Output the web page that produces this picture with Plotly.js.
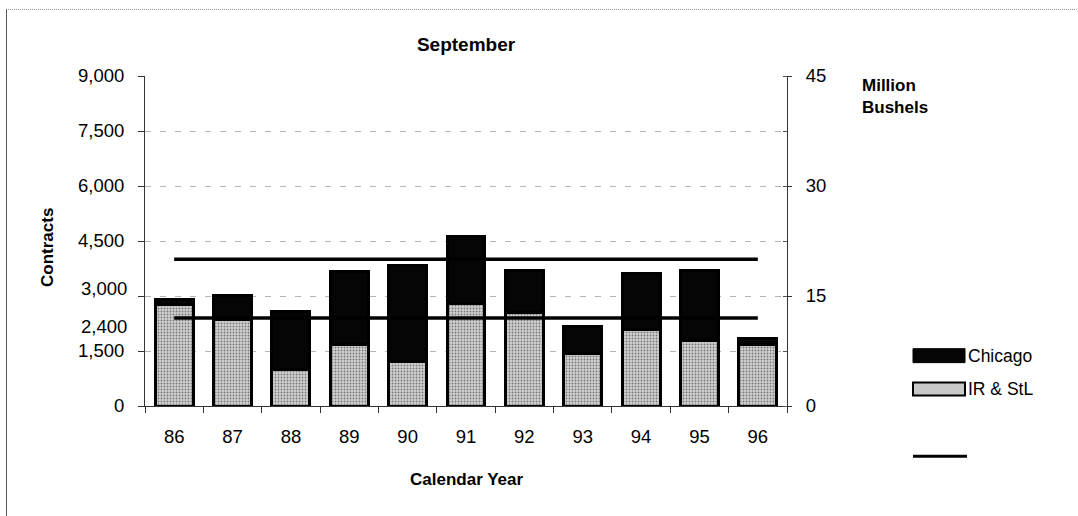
<!DOCTYPE html>
<html>
<head>
<meta charset="utf-8">
<script src="https://cdn.plot.ly/plotly-3.0.1.min.js"></script>
<style>
  html, body { margin: 0; padding: 0; background: #fff; }
  #wrap { position: relative; width: 1078px; height: 516px; }
  #chart { width: 1078px; height: 516px; }
  #frame { position: absolute; left: 6px; top: 9px; width: 1072px; height: 507px;
           border-left: 1px solid #555; border-top: 1px dotted #999; pointer-events: none; }
</style>
</head>
<body>
<div id="wrap"><div id="chart"></div><div id="frame"></div></div>
<script>
// ---- data ----
const years = ['86', '87', '88', '89', '90', '91', '92', '93', '94', '95', '96'];
const irStl = [2780, 2370, 1000, 1690, 1215, 2800, 2555, 1440, 2100, 1775, 1665];
const chicago = [120, 650, 1575, 1980, 2615, 1820, 1135, 735, 1525, 1915, 165];
const upperLine = [4000, 4000, 4000, 4000, 4000, 4000, 4000, 4000, 4000, 4000, 4000];
const lowerLine = [2400, 2400, 2400, 2400, 2400, 2400, 2400, 2400, 2400, 2400, 2400];
const leftTickVals = [0, 1500, 3000, 4500, 6000, 7500, 9000];
const leftTickText = ['0', '1,500', '', '4,500', '6,000', '7,500', '9,000'];
const rightTickVals = [0, 15, 30, 45];
const rightTickText = ['0', '15', '30', '45'];

// ---- layout helpers (pixel -> paper) ----
const L = 145, R = 787, T = 75.5, B = 406.5;
const px = x => (x - L) / (R - L);
const py = y => (B - y) / (B - T);
const FONT = 'Liberation Sans, Arial, sans-serif';

const traces = [
  { type: 'bar', name: 'IR & StL', x: years, y: irStl, width: 0.65,
    marker: { color: '#c8c8c8', line: { color: '#000', width: 3 },
              pattern: { shape: '.', fgcolor: '#7a7a7a', bgcolor: '#d0d0d0', size: 3, solidity: 0.3 } },
    showlegend: false },
  { type: 'bar', name: 'Chicago', x: years, y: chicago, width: 0.65,
    marker: { color: '#050505', line: { color: '#000', width: 3 } }, showlegend: false },
  { type: 'scatter', mode: 'lines', x: years, y: upperLine, line: { color: '#000', width: 3.5 }, showlegend: false },
  { type: 'scatter', mode: 'lines', x: years, y: lowerLine, line: { color: '#000', width: 3.5 }, showlegend: false },
  { type: 'scatter', mode: 'lines', x: years, y: [null,null,null,null,null,null,null,null,null,null,null], yaxis: 'y2', showlegend: false, hoverinfo: 'skip' }
];

const layout = {
  width: 1078, height: 516,
  margin: { l: L, r: 1078 - R, t: T, b: 516 - B, pad: 0 },
  paper_bgcolor: '#fff', plot_bgcolor: '#fff',
  font: { family: FONT, size: 18, color: '#000' },
  barmode: 'stack',
  title: { text: '<b>September</b>', font: { family: FONT, size: 19, color: '#000' },
           x: 0.5, xref: 'paper', y: 1 - 44 / 516, yref: 'container', yanchor: 'middle' },
  xaxis: { type: 'category', range: [-0.5, 10.5], tickson: 'boundaries', ticks: 'outside', ticklen: 6,
           tickcolor: '#333', showline: true, linecolor: '#333', linewidth: 1, showgrid: false,
           ticklabelstandoff: 14, tickfont: { family: FONT, size: 18.5 }, automargin: false, fixedrange: true },
  yaxis: { range: [0, 9000], tickvals: leftTickVals, ticktext: leftTickText, ticks: 'outside', ticklen: 6,
           tickcolor: '#333', showline: true, linecolor: '#333', linewidth: 1,
           showgrid: true, gridcolor: '#b4b4b4', gridwidth: 1, griddash: '6px,9px', zeroline: false,
           ticklabelstandoff: 10, tickfont: { family: FONT, size: 18.5 }, automargin: false, fixedrange: true },
  yaxis2: { overlaying: 'y', side: 'right', range: [0, 45], tickvals: rightTickVals, ticktext: rightTickText,
            ticks: 'outside', ticklen: 4, tickcolor: '#333', showline: true, linecolor: '#333', linewidth: 1,
            showgrid: false, zeroline: false, ticklabelstandoff: 10, tickfont: { family: FONT, size: 18.5 },
            minor: { dtick: 7.5, ticks: 'inside', ticklen: 4, tickcolor: '#555' },
            automargin: false, fixedrange: true },
  annotations: [
    { text: '3,000', xref: 'paper', yref: 'y', x: 0, y: 3000, xanchor: 'right', yanchor: 'middle',
      xshift: -16, yshift: 8, showarrow: false, font: { family: FONT, size: 18.5 } },
    { text: '2,400', xref: 'paper', yref: 'y', x: 0, y: 2400, xanchor: 'right', yanchor: 'middle',
      xshift: -16, yshift: -8, showarrow: false, font: { family: FONT, size: 18.5 } },
    { text: '<b>Contracts</b>', xref: 'paper', yref: 'paper', x: px(48), y: py(248), textangle: -90,
      xanchor: 'center', yanchor: 'middle', showarrow: false, font: { family: FONT, size: 17 } },
    { text: '<b>Calendar Year</b>', xref: 'paper', yref: 'paper', x: px(467), y: py(480),
      xanchor: 'center', yanchor: 'middle', showarrow: false, font: { family: FONT, size: 17 } },
    { text: '<b>Million<br>Bushels</b>', xref: 'paper', yref: 'paper', x: px(860), y: py(96), align: 'left',
      xanchor: 'left', yanchor: 'middle', showarrow: false, font: { family: FONT, size: 17 } },
    { text: 'Chicago', xref: 'paper', yref: 'paper', x: px(966), y: py(356),
      xanchor: 'left', yanchor: 'middle', showarrow: false, font: { family: FONT, size: 17.5 } },
    { text: 'IR &amp; StL', xref: 'paper', yref: 'paper', x: px(966), y: py(389),
      xanchor: 'left', yanchor: 'middle', showarrow: false, font: { family: FONT, size: 17.5 } }
  ],
  shapes: [
    { type: 'rect', xref: 'paper', yref: 'paper', x0: px(913), x1: px(965), y0: py(363), y1: py(349),
      fillcolor: '#050505', line: { color: '#000', width: 1 } },
    { type: 'rect', xref: 'paper', yref: 'paper', x0: px(913), x1: px(965), y0: py(396), y1: py(383),
      fillcolor: '#c8c8c8', line: { color: '#000', width: 2 } },
    { type: 'line', xref: 'paper', yref: 'paper', x0: px(913), x1: px(967), y0: py(457), y1: py(457),
      line: { color: '#000', width: 3 } }
  ]
};

Plotly.newPlot('chart', traces, layout, { displayModeBar: false, staticPlot: true });
</script>
</body>
</html>
